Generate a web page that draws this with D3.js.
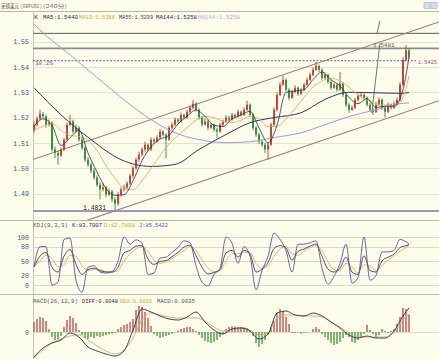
<!DOCTYPE html>
<html><head><meta charset="utf-8">
<script src="https://cdn.jsdelivr.net/npm/d3@7"></script>
<style>body{margin:0;background:#fdfdeb;}svg{display:block}</style>
</head><body><svg id="c" width="439" height="359"></svg>
<script>
// ---------- DATA ----------
const opens=[1.5150,1.5172,1.5195,1.5215,1.5205,1.5172,1.5180,1.5074,1.5060,1.5050,
1.5074,1.5113,1.5172,1.5185,1.5145,1.5160,1.5113,1.5080,1.5034,1.5014,
1.4990,1.4963,1.4935,1.4916,1.4924,1.4896,1.4908,1.4877,1.4860,1.4896,
1.4916,1.4924,1.4940,1.4970,1.5000,1.5034,1.5054,1.5074,1.5093,1.5074,
1.5113,1.5105,1.5121,1.5145,1.5133,1.5113,1.5160,1.5172,1.5192,1.5185,
1.5211,1.5200,1.5223,1.5239,1.5255,1.5231,1.5200,1.5172,1.5185,1.5160,
1.5172,1.5152,1.5145,1.5172,1.5185,1.5200,1.5192,1.5211,1.5204,1.5223,
1.5211,1.5231,1.5251,1.5211,1.5160,1.5133,1.5105,1.5093,1.5074,1.5093,
1.5172,1.5231,1.5290,1.5330,1.5349,1.5310,1.5278,1.5302,1.5318,1.5294,
1.5310,1.5330,1.5349,1.5369,1.5389,1.5404,1.5389,1.5357,1.5369,1.5341,
1.5318,1.5330,1.5310,1.5334,1.5290,1.5251,1.5231,1.5239,1.5270,1.5286,
1.5290,1.5278,1.5251,1.5231,1.5223,1.5251,1.5270,1.5239,1.5223,1.5251,
1.5239,1.5255,1.5270,1.5330,1.5428,1.5466];
const closes=[1.5172,1.5195,1.5215,1.5205,1.5172,1.5180,1.5074,1.5060,1.5050,1.5074,
1.5113,1.5172,1.5185,1.5145,1.5160,1.5113,1.5080,1.5034,1.5014,1.4990,
1.4963,1.4935,1.4916,1.4924,1.4896,1.4908,1.4877,1.4860,1.4896,1.4916,
1.4924,1.4940,1.4970,1.5000,1.5034,1.5054,1.5074,1.5093,1.5074,1.5113,
1.5105,1.5121,1.5145,1.5133,1.5113,1.5160,1.5172,1.5192,1.5185,1.5211,
1.5200,1.5223,1.5239,1.5255,1.5231,1.5200,1.5172,1.5185,1.5160,1.5172,
1.5152,1.5145,1.5172,1.5185,1.5200,1.5192,1.5211,1.5204,1.5223,1.5211,
1.5231,1.5251,1.5211,1.5160,1.5133,1.5105,1.5093,1.5074,1.5093,1.5172,
1.5231,1.5290,1.5330,1.5349,1.5310,1.5278,1.5302,1.5318,1.5294,1.5310,
1.5330,1.5349,1.5369,1.5389,1.5404,1.5389,1.5357,1.5369,1.5341,1.5318,
1.5330,1.5310,1.5334,1.5290,1.5251,1.5231,1.5239,1.5270,1.5286,1.5290,
1.5278,1.5251,1.5231,1.5223,1.5251,1.5270,1.5239,1.5223,1.5251,1.5239,
1.5255,1.5270,1.5330,1.5428,1.5466,1.5440];
const highs=[1.5185,1.5205,1.5231,1.5222,1.5212,1.5192,1.5186,1.5085,1.5068,1.5082,
1.5120,1.5180,1.5211,1.5192,1.5172,1.5166,1.5125,1.5088,1.5045,1.5022,
1.5000,1.4972,1.4944,1.4940,1.4930,1.4918,1.4914,1.4885,1.4905,1.4925,
1.4935,1.4948,1.4978,1.5010,1.5042,1.5065,1.5082,1.5105,1.5098,1.5122,
1.5120,1.5130,1.5155,1.5150,1.5138,1.5168,1.5180,1.5200,1.5198,1.5220,
1.5215,1.5230,1.5248,1.5270,1.5262,1.5236,1.5208,1.5195,1.5190,1.5180,
1.5178,1.5160,1.5180,1.5192,1.5210,1.5206,1.5218,1.5216,1.5232,1.5228,
1.5240,1.5267,1.5256,1.5216,1.5166,1.5140,1.5112,1.5100,1.5102,1.5180,
1.5240,1.5300,1.5340,1.5365,1.5355,1.5318,1.5310,1.5328,1.5322,1.5318,
1.5338,1.5358,1.5378,1.5398,1.5420,1.5410,1.5395,1.5378,1.5374,1.5348,
1.5338,1.5335,1.5380,1.5340,1.5296,1.5258,1.5248,1.5278,1.5295,1.5300,
1.5296,1.5284,1.5258,1.5238,1.5262,1.5280,1.5276,1.5245,1.5260,1.5256,
1.5264,1.5280,1.5340,1.5440,1.5487,1.5475];
const lows=[1.5140,1.5165,1.5188,1.5198,1.5160,1.5165,1.5065,1.5040,1.5014,1.5044,
1.5068,1.5105,1.5165,1.5138,1.5140,1.5105,1.5072,1.5025,1.5005,1.4980,
1.4955,1.4926,1.4877,1.4908,1.4885,1.4890,1.4866,1.4831,1.4852,1.4888,
1.4908,1.4916,1.4932,1.4962,1.4992,1.5025,1.5046,1.5065,1.5066,1.5068,
1.5096,1.5100,1.5115,1.5126,1.5040,1.5108,1.5152,1.5166,1.5178,1.5180,
1.5192,1.5196,1.5216,1.5232,1.5224,1.5192,1.5164,1.5168,1.5150,1.5155,
1.5144,1.5120,1.5140,1.5166,1.5180,1.5184,1.5188,1.5196,1.5200,1.5204,
1.5206,1.5226,1.5204,1.5150,1.5124,1.5096,1.5084,1.5060,1.5034,1.5088,
1.5166,1.5225,1.5284,1.5325,1.5302,1.5268,1.5274,1.5296,1.5286,1.5290,
1.5304,1.5325,1.5344,1.5364,1.5384,1.5380,1.5350,1.5352,1.5334,1.5310,
1.5314,1.5302,1.5305,1.5282,1.5242,1.5219,1.5226,1.5234,1.5264,1.5280,
1.5270,1.5244,1.5224,1.5211,1.5218,1.5246,1.5230,1.5200,1.5218,1.5232,
1.5234,1.5250,1.5265,1.5325,1.5422,1.5432];

// moving averages (sampled at candle indices)
const maFastIdx=[0,3,6,9,12,15,18,21,24,27,30,33,36,39,42,45,48,51,54,57,60,63,66,69,72,75,78,81,84,87,90,93,96,99,102,105,108,111,114,117,120,123,125];
const ma5=[1.5165,1.5195,1.5170,1.5090,1.5120,1.5150,1.5060,1.4985,1.4920,1.4893,1.4895,1.4950,1.5030,1.5085,1.5115,1.5130,1.5175,1.5205,1.5230,1.5205,1.5170,1.5165,1.5195,1.5210,1.5225,1.5160,1.5100,1.5170,1.5300,1.5305,1.5310,1.5350,1.5380,1.5350,1.5325,1.5280,1.5255,1.5275,1.5240,1.5245,1.5245,1.5310,1.5440];
const ma13=[1.5150,1.5165,1.5175,1.5150,1.5130,1.5125,1.5110,1.5070,1.5010,1.4960,1.4920,1.4915,1.4950,1.5000,1.5050,1.5095,1.5130,1.5160,1.5190,1.5205,1.5200,1.5185,1.5180,1.5190,1.5205,1.5195,1.5165,1.5165,1.5195,1.5235,1.5280,1.5320,1.5345,1.5355,1.5345,1.5320,1.5290,1.5270,1.5255,1.5250,1.5245,1.5280,1.5366];
const ma55Idx=[0,9,19,29,39,47,55,64,72,80,89,97,105,114,122,125];
const ma55=[1.5318,1.5211,1.5113,1.5034,1.5007,1.5015,1.5074,1.5133,1.5180,1.5200,1.5219,1.5272,1.5300,1.5298,1.5296,1.5299];
const ma144Idx=[0,2,12,22,30,39,47,55,64,72,80,89,97,105,114,122,125];
const ma144=[1.5570,1.5546,1.5448,1.5349,1.5270,1.5192,1.5140,1.5113,1.5101,1.5105,1.5121,1.5140,1.5172,1.5204,1.5231,1.5255,1.5258];

// KDJ (sampled every 2 candles)
const kdjIdx=[0,2,4,6,8,10,12,14,16,18,20,22,24,26,28,30,32,34,36,38,40,42,44,46,48,50,52,54,56,58,60,62,64,66,68,70,72,74,76,78,80,82,84,86,88,90,92,94,96,98,100,102,104,106,108,110,112,114,116,118,120,122,124,125];
const kdjK=[38,60,68,37,27,60,74,43,22,32,35,30,27,27,37,67,72,81,82,54,43,49,51,59,68,79,83,61,37,23,26,32,67,72,58,72,65,27,33,47,76,82,77,52,70,75,81,85,60,33,27,35,58,27,22,61,30,27,50,58,64,78,82,83.7];
const kdjD=[38,50,62,55,38,42,62,60,40,30,32,32,28,27,30,50,65,75,80,70,52,45,48,55,63,72,80,72,52,35,28,30,50,65,65,68,68,45,35,40,60,75,80,65,62,70,78,82,72,48,32,30,45,38,25,42,40,30,40,52,60,70,78,82.8];
const kdjJ=[38,80,80,0,6,95,98,10,-15,37,40,27,25,28,50,100,85,94,87,22,25,56,58,68,78,92,88,40,6,-2,22,35,100,87,45,80,60,-10,30,60,108,95,72,27,85,85,88,92,35,2,18,45,85,4,15,100,10,20,69,69,72,95,90,85.5];
const kdjTicks=[0,20,50,80,100];

// MACD
const macdIdx=[0,3,6,9,12,15,18,21,24,27,30,33,36,39,42,45,48,51,54,57,60,63,66,69,72,75,78,81,84,87,90,93,96,99,102,105,108,111,114,117,120,123,125];
const diff=[-0.0050,-0.0032,-0.0022,-0.0016,-0.0002,-0.0010,-0.0030,-0.0038,-0.0044,-0.0048,-0.0038,0.0004,0.0046,0.0040,0.0032,0.0026,0.0024,0.0030,0.0040,0.0020,0.0004,-0.0004,0.0006,0.0008,0.0002,-0.0014,-0.0004,0.0038,0.0042,0.0034,0.0032,0.0038,0.0032,0.0020,0.0008,-0.0006,-0.0012,-0.0008,-0.0012,-0.0012,0.0002,0.0032,0.0048];
const dea=[-0.0052,-0.0036,-0.0022,-0.0014,-0.0008,-0.0006,-0.0016,-0.0028,-0.0038,-0.0044,-0.0036,-0.0012,0.0024,0.0038,0.0034,0.0030,0.0028,0.0028,0.0028,0.0022,0.0010,0.0002,0.0006,0.0008,0.0004,-0.0006,-0.0002,0.0028,0.0034,0.0034,0.0032,0.0032,0.0030,0.0020,0.0010,-0.0002,-0.0010,-0.0010,-0.0010,-0.0010,0.0000,0.0024,0.0036];
const hist=[0.0020,0.0026,0.0030,0.0028,0.0022,0.0006,-0.0010,-0.0016,-0.0014,-0.0008,
0.0010,0.0024,0.0032,0.0028,0.0018,0.0004,-0.0006,-0.0012,-0.0014,-0.0010,
-0.0012,-0.0008,-0.0010,-0.0008,-0.0006,-0.0005,-0.0003,-0.0002,0.0006,0.0010,
0.0014,0.0016,0.0020,0.0026,0.0044,0.0052,0.0050,0.0040,0.0028,0.0012,
-0.0004,-0.0008,-0.0012,-0.0010,-0.0008,-0.0006,-0.0003,-0.0001,0.0003,0.0006,
0.0008,0.0010,0.0010,0.0006,0.0002,-0.0006,-0.0012,-0.0018,-0.0020,-0.0022,
-0.0020,-0.0016,-0.0010,-0.0004,0.0006,0.0010,0.0011,0.0011,0.0010,0.0010,
0.0009,0.0008,0.0003,-0.0008,-0.0022,-0.0030,-0.0024,-0.0016,-0.0006,0.0010,
0.0022,0.0038,0.0046,0.0042,0.0030,0.0016,-0.0002,-0.0002,-0.0001,-0.0003,
-0.0002,-0.0001,0.0000,0.0006,0.0010,0.0006,-0.0004,-0.0010,-0.0016,-0.0022,
-0.0026,-0.0024,-0.0020,-0.0012,-0.0006,-0.0010,-0.0020,-0.0022,-0.0016,-0.0010,
-0.0004,0.0014,0.0004,-0.0004,-0.0010,-0.0006,0.0006,0.0002,-0.0002,0.0002,
0.0006,0.0016,0.0030,0.0048,0.0046,0.0035];

const priceTicks=[1.49,1.50,1.51,1.52,1.53,1.54,1.55];
const hLevels=[1.5533,1.5474];
const fibLevel=1.5425, lowLevel=1.4831;
const channelUpper=[[-0.33,1.5034],[135,1.5578]];
const channelLower=[[17.7,1.4794],[135,1.5267]];
const trendMarks=[[[115.3,1.5582],[114.3,1.5530]],[[115.3,1.5494],[112.6,1.5218]]];

// ---------- CHART ----------
const svg=d3.select('#c');
const L=33,R=439;
svg.append('rect').attr('width',439).attr('height',359).attr('fill','#fdfdeb');
const x=d3.scaleLinear().domain([0,125]).range([34,409]);
const yP=d3.scaleLinear().domain([1.49,1.55]).range([193.5,41.7]);
const yK=d3.scaleLinear().domain([0,100]).range([285,237]);
const yM=d3.scaleLinear().domain([-0.0054,0.0054]).range([359,305]);
const defs=svg.append('defs');
function clip(id,y0,y1){defs.append('clipPath').attr('id',id).append('rect').attr('x',L).attr('y',y0).attr('width',R-L).attr('height',y1-y0);}
clip('cp',11.5,220);clip('ck',220,294);clip('cm',294,359);
const mono='"Liberation Mono","DejaVu Sans Mono",monospace';

// grid
svg.append('g').selectAll('line').data(priceTicks).join('line').attr('x1',L).attr('x2',R)
 .attr('y1',d=>Math.round(yP(d))+0.5).attr('y2',d=>Math.round(yP(d))+0.5).attr('stroke','#e3e3cf').attr('stroke-width',1);
svg.append('g').selectAll('line').data(kdjTicks).join('line').attr('x1',L).attr('x2',R)
 .attr('y1',d=>Math.round(yK(d))+0.5).attr('y2',d=>Math.round(yK(d))+0.5).attr('stroke','#dcdcc6');
svg.append('line').attr('x1',L).attr('x2',R).attr('y1',Math.round(yM(0))+0.5).attr('y2',Math.round(yM(0))+0.5).attr('stroke','#dcdcc6');

// separators
[11.5,220.5,294.5].forEach(y=>svg.append('line').attr('x1',0).attr('x2',R).attr('y1',y).attr('y2',y).attr('stroke','#b8b8a8'));
svg.append('line').attr('x1',L+0.5).attr('x2',L+0.5).attr('y1',11.5).attr('y2',359).attr('stroke','#c4c4b4');

// axes
function styleAxis(g){g.select('.domain').remove();g.selectAll('text').attr('font-family',mono).attr('font-size',6.6).attr('fill','#555').attr('dx',-1);}
svg.append('g').attr('transform',`translate(${L},0)`).call(d3.axisLeft(yP).tickValues(priceTicks).tickSize(0).tickFormat(d3.format('.2f'))).call(styleAxis);
svg.append('g').attr('transform',`translate(${L},0)`).call(d3.axisLeft(yK).tickValues(kdjTicks).tickSize(0)).call(styleAxis);
svg.append('g').attr('transform',`translate(${L},0)`).call(d3.axisLeft(yM).tickValues([0]).tickSize(0).tickFormat(()=> '0')).call(styleAxis);

// price pane
const pp=svg.append('g').attr('clip-path','url(#cp)');
pp.selectAll('.hl').data(hLevels).join('line').attr('x1',L).attr('x2',R)
 .attr('y1',d=>yP(d)).attr('y2',d=>yP(d)).attr('stroke',(d,i)=>i?'#8c8c8c':'#5a5a5a').attr('stroke-width',(d,i)=>i?1.8:1);
pp.append('line').attr('x1',L).attr('x2',416).attr('y1',yP(fibLevel)).attr('y2',yP(fibLevel)).attr('stroke','#8a7ea8').attr('stroke-dasharray','2,1.5').attr('stroke-width',1.2);
pp.append('line').attr('x1',L).attr('x2',R).attr('y1',yP(lowLevel)).attr('y2',yP(lowLevel)).attr('stroke','#9c98b8').attr('stroke-width',2);
const segLine=d3.line().x(d=>x(d[0])).y(d=>yP(d[1]));
[channelUpper,channelLower].forEach(c=>pp.append('path').attr('d',segLine(c)).attr('stroke','#a07c7c').attr('stroke-width',1.1).attr('fill','none'));
trendMarks.forEach(c=>pp.append('path').attr('d',segLine(c)).attr('stroke','#555').attr('stroke-width',0.8).attr('fill','none'));

// candles
const idx=d3.range(closes.length);
const up='#c43a2c',dn='#2f8c38';
const cg=pp.append('g');
cg.selectAll('.w').data(idx).join('line').attr('x1',i=>x(i)).attr('x2',i=>x(i))
 .attr('y1',i=>yP(highs[i])).attr('y2',i=>yP(lows[i])).attr('stroke',i=>closes[i]>=opens[i]?up:dn).attr('stroke-width',0.9);
cg.selectAll('.b').data(idx).join('rect').attr('x',i=>x(i)-0.9).attr('width',1.8)
 .attr('y',i=>yP(Math.max(opens[i],closes[i]))).attr('height',i=>Math.max(0.8,Math.abs(yP(opens[i])-yP(closes[i]))))
 .attr('fill',i=>closes[i]>=opens[i]?up:dn);

// MAs
function ma(ids,vals,col,w){pp.append('path').attr('d',d3.line().curve(d3.curveMonotoneX).x((d,k)=>x(ids[k])).y(d=>yP(d))(vals)).attr('fill','none').attr('stroke',col).attr('stroke-width',w);}
ma(ma144Idx,ma144,'#a898d6',1);
ma(ma55Idx,ma55,'#383858',1);
ma(maFastIdx,ma13,'#d8b45e',0.9);
ma(maFastIdx,ma5,'#2a2a58',0.8);

// labels price pane
svg.append('text').attr('x',35).attr('y',yP(fibLevel)+4.5).text('38.2%').attr('font-family',mono).attr('font-size',6).attr('fill','#c0408a');
svg.append('text').attr('x',418).attr('y',yP(fibLevel)+3).text('1.5425').attr('font-family',mono).attr('font-size',5.6).attr('fill','#c0408a').attr('textLength',19).attr('lengthAdjust','spacingAndGlyphs');
svg.append('text').attr('x',373).attr('y',yP(1.5474)-1.5).text('1.5481').attr('font-family',mono).attr('font-size',6).attr('fill','#555');
svg.append('text').attr('x',83).attr('y',yP(lowLevel)-1).text('1.4831').attr('font-family',mono).attr('font-size',6.4).attr('fill','#222');

// KDJ
const kp=svg.append('g').attr('clip-path','url(#ck)');
function kl(vals,col,w){kp.append('path').attr('d',d3.line().curve(d3.curveMonotoneX).x((d,k)=>x(kdjIdx[k])).y(d=>yK(d))(vals)).attr('fill','none').attr('stroke',col).attr('stroke-width',w);}
kl(kdjD,'#d4b462',0.9);kl(kdjK,'#3c3c62',0.9);kl(kdjJ,'#5a50a8',0.9);

// MACD
const mp=svg.append('g').attr('clip-path','url(#cm)');
mp.selectAll('rect').data(idx).join('rect').attr('x',i=>x(i)-0.75).attr('width',1.5)
 .attr('y',i=>Math.min(yM(0),yM(hist[i]))).attr('height',i=>Math.abs(yM(hist[i])-yM(0)))
 .attr('fill',i=>hist[i]>=0?'#c0605a':'#5aa04c');
function ml(vals,col){mp.append('path').attr('d',d3.line().curve(d3.curveMonotoneX).x((d,k)=>x(macdIdx[k])).y(d=>yM(d))(vals)).attr('fill','none').attr('stroke',col).attr('stroke-width',0.9);}
ml(dea,'#d4ac58');ml(diff,'#2c2c54');

// legends
function leg(items,y){items.forEach(([t,x0,x1,c])=>svg.append('text').attr('x',x0).attr('y',y).text(t).attr('font-family',mono).attr('font-size',5.8).attr('fill',c).attr('textLength',x1-x0).attr('lengthAdjust','spacingAndGlyphs'));}
leg([['K',34,38,'#333'],['MA5:1.5440',43,78,'#1e1e50'],['MA13:1.5366',79,115,'#d0a830'],['MA55:1.5299',119,153,'#3a3a5a'],['MA144:1.5258',156,197,'#20205a'],['MA144:1.5258',198,240,'#c4a6de']],19);
leg([['KDJ(9,3,3)',33,68,'#555'],['K:83.7007',72,102,'#1e1e50'],['D:82.7800',104,135,'#d0a830'],['J:85.5422',139,168,'#5a50a8']],227);
leg([['MACD(26,12,9)',33,78,'#555'],['DIFF:0.0048',82,118,'#1e1e50'],['DEA:0.0030',120,152,'#d0a830'],['MACD:0.0035',157,195,'#555']],302.5);

// title
const cjk='"Noto Sans CJK SC",sans-serif';
svg.append('text').attr('x',1).attr('y',8).text('英镑美元').attr('font-family',cjk).attr('font-size',5.2).attr('fill','#333').attr('textLength',18).attr('lengthAdjust','spacingAndGlyphs');
svg.append('text').attr('x',20).attr('y',8).text('(GBPUSD)').attr('font-family',mono).attr('font-size',5).attr('fill','#777').attr('textLength',22).attr('lengthAdjust','spacingAndGlyphs');
svg.append('text').attr('x',43).attr('y',8).text('(240分)').attr('font-family',cjk).attr('font-size',5).attr('fill','#777').attr('textLength',24).attr('lengthAdjust','spacingAndGlyphs');
// window icons
[424,431].forEach(ix=>svg.append('rect').attr('x',ix).attr('y',2.5).attr('width',6).attr('height',6).attr('fill','#cfe2ee').attr('stroke','#8fb4cf').attr('stroke-width',0.6));
</script></body></html>
